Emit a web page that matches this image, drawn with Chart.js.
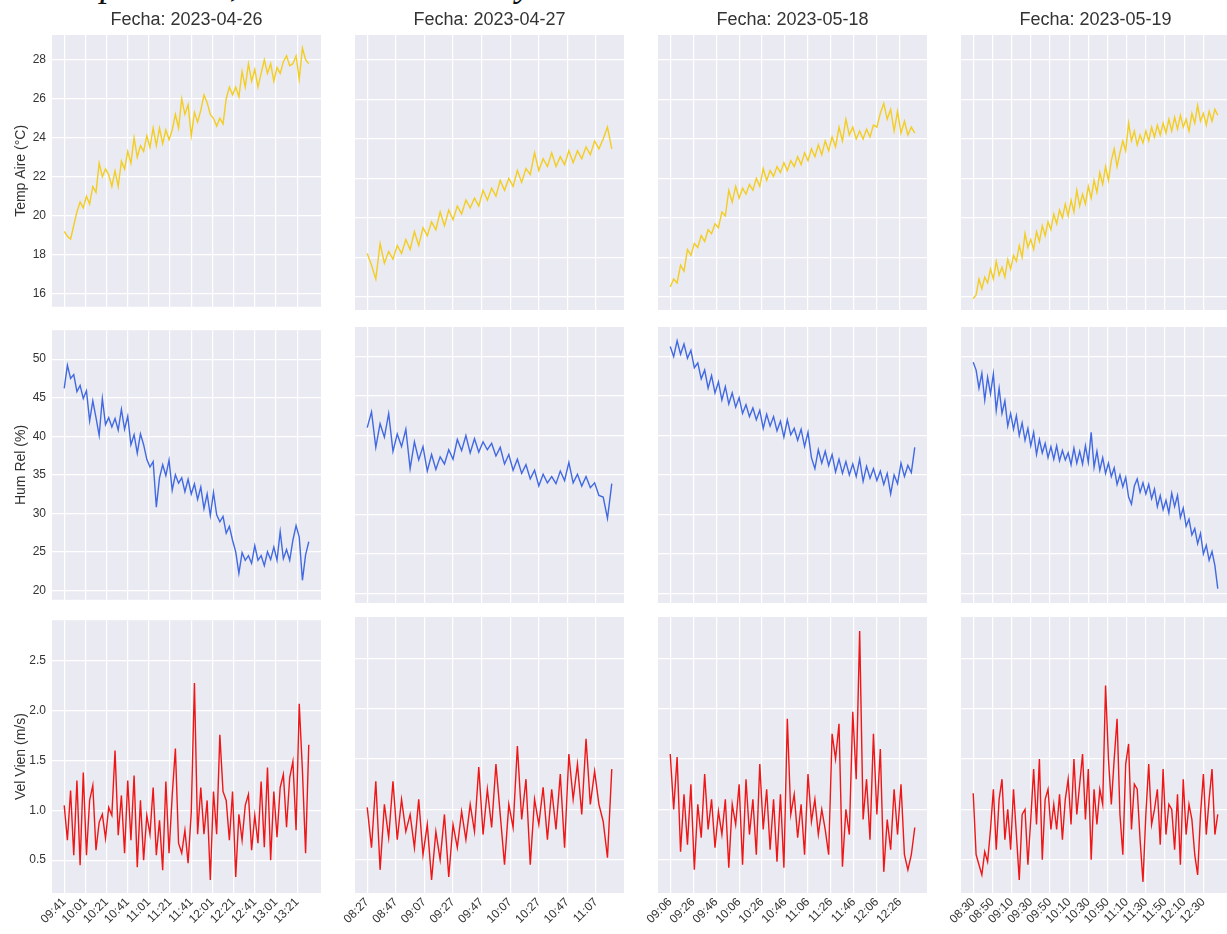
<!DOCTYPE html>
<html>
<head>
<meta charset="utf-8">
<script src="https://cdn.jsdelivr.net/npm/chart.js@4.4.0/dist/chart.umd.min.js"></script>
<style>
  html, body { margin: 0; padding: 0; background: #ffffff; width: 1227px; height: 934px; overflow: hidden; position: relative; }
  canvas.panel { position: absolute; }
  .caption { position: absolute; left: 40px; top: -35px; font: italic 37px "Liberation Serif", serif; line-height: 37px; white-space: nowrap; color: #111; }
</style>
</head>
<body>
<div class="caption">Temperatura, humedad relativa y velocidad del viento</div>
<script>
// ---- Data: one reading every 3 minutes from each day's start time ----
const dates = ['2023-04-26', '2023-04-27', '2023-05-18', '2023-05-19'];
const sampleStepMin = 3;

const ticks0426 = ['09:41','10:01','10:21','10:41','11:01','11:21','11:41','12:01','12:21','12:41','13:01','13:21'];
const ticks0427 = ['08:27','08:47','09:07','09:27','09:47','10:07','10:27','10:47','11:07'];
const ticks0518 = ['09:06','09:26','09:46','10:06','10:26','10:46','11:06','11:26','11:46','12:06','12:26'];
const ticks0519 = ['08:30','08:50','09:10','09:30','09:50','10:10','10:30','10:50','11:10','11:30','11:50','12:10','12:30'];
const tickStepMin = 20;

const tempTicks = [16, 18, 20, 22, 24, 26, 28];
const humTicks = [20, 25, 30, 35, 40, 45, 50];
const velTicks = [0.5, 1.0, 1.5, 2.0, 2.5];

const temp0426 = [19.2,18.95,18.8,19.5,20.2,20.7,20.4,21.0,20.6,21.5,
  21.2,22.7,22.0,22.4,22.1,21.5,22.3,21.5,22.8,22.4,
  23.3,22.7,24.0,23.0,23.6,23.3,24.1,23.5,24.5,23.6,
  24.5,23.7,24.4,23.9,24.4,25.2,24.5,26.0,25.2,25.7,
  24.1,25.3,24.8,25.4,26.2,25.8,25.2,25.0,24.6,25.0,
  24.7,26.0,26.6,26.2,26.6,26.1,27.4,26.6,27.8,26.9,
  27.5,26.6,27.3,28.0,27.3,27.8,26.9,27.6,27.3,27.9,
  28.2,27.7,27.8,28.2,27.0,28.6,28.0,27.8];
const hum0426 = [46.2,49.2,47.5,48.0,45.8,46.6,44.9,45.9,42.0,44.6,
  42.4,40.1,44.9,41.5,42.4,41.2,42.3,40.8,43.5,40.9,
  42.6,38.9,40.2,37.8,40.3,38.9,37.0,36.0,36.7,30.8,
  34.6,36.3,34.9,36.9,33.0,35.0,33.9,34.6,32.8,34.4,
  32.5,33.8,31.8,33.4,30.6,32.5,29.7,32.7,29.8,28.9,
  29.6,27.4,28.3,26.5,25.0,22.2,24.9,23.9,24.5,23.5,
  25.8,23.9,24.5,23.2,25.0,24.0,25.6,23.9,27.6,24.1,
  25.3,23.9,26.5,28.4,26.9,21.3,24.6,26.3];
const vel0426 = [1.05,0.70,1.20,0.55,1.30,0.45,1.38,0.55,1.10,1.25,
  0.60,0.88,0.96,0.72,1.03,0.95,1.60,0.75,1.15,0.57,
  1.30,0.70,1.35,0.43,1.10,0.50,0.95,0.76,1.23,0.55,
  0.90,0.40,1.29,0.57,1.15,1.62,0.67,0.57,0.80,0.47,
  0.98,2.28,0.76,1.23,0.76,1.10,0.30,1.19,0.76,1.76,
  1.19,1.10,0.70,1.19,0.33,0.96,0.70,1.05,1.16,0.60,
  0.95,0.67,1.29,0.63,1.43,0.50,1.19,0.73,1.23,1.36,
  0.83,1.33,1.49,0.80,2.07,1.40,0.57,1.66];

const temp0427 = [18.2,17.6,16.9,18.7,17.7,18.3,17.9,18.6,18.2,18.9,
  18.4,19.3,18.6,19.5,19.1,19.8,19.4,20.3,19.6,20.4,
  19.9,20.6,20.2,20.9,20.5,21.0,20.6,21.4,20.9,21.5,
  21.1,21.9,21.4,22.0,21.6,22.4,21.8,22.5,22.2,23.3,
  22.4,23.0,22.6,23.3,22.6,23.1,22.7,23.4,22.8,23.4,
  23.0,23.6,23.2,23.9,23.5,24.0,24.6,23.5];
const hum0427 = [41.0,43.0,38.5,41.5,39.8,42.8,38.0,40.2,38.6,40.8,
  35.8,39.2,36.9,38.6,35.5,37.6,35.7,37.3,36.4,38.2,
  37.0,39.5,38.1,40.0,37.8,39.6,37.9,39.2,38.2,39.0,
  37.4,38.5,36.4,37.6,35.6,37.0,35.2,36.3,34.5,35.6,
  33.6,35.1,34.0,34.8,33.9,35.5,34.3,36.6,34.0,35.1,
  33.6,34.8,33.4,34.0,32.4,32.2,29.5,33.9];
const vel0427 = [1.02,0.62,1.28,0.40,1.05,0.72,1.28,0.70,1.10,0.78,
  0.95,0.62,1.10,0.55,0.85,0.30,0.78,0.50,0.95,0.33,
  0.85,0.62,0.98,0.70,1.05,0.78,1.42,0.75,1.20,0.82,
  1.45,0.95,0.45,1.05,0.82,1.63,0.90,1.30,0.45,1.10,
  0.85,1.22,0.70,1.20,0.80,1.35,0.62,1.55,1.10,1.45,
  0.95,1.70,1.05,1.38,1.05,0.88,0.52,1.40];

const temp0518 = [16.5,16.9,16.7,17.6,17.3,18.4,18.1,18.7,18.5,19.1,
  18.8,19.4,19.2,19.7,19.5,20.3,20.1,21.4,20.8,21.6,
  21.0,21.5,21.2,21.7,21.4,22.0,21.6,22.5,21.9,22.4,
  22.1,22.6,22.3,22.8,22.4,22.9,22.6,23.1,22.7,23.3,
  22.9,23.5,23.1,23.7,23.2,23.9,23.4,24.1,23.6,24.6,
  23.9,25.0,24.2,24.6,24.0,24.4,24.0,24.5,24.1,24.7,
  24.6,25.3,25.8,25.0,25.5,24.4,25.4,24.3,24.9,24.2,
  24.6,24.3];
const hum0518 = [51.3,50.0,52.0,50.3,51.6,49.8,50.8,48.6,49.2,47.2,
  48.3,46.0,47.6,45.4,46.8,44.5,46.2,44.0,45.4,43.6,
  44.8,42.8,43.9,42.4,43.5,42.0,43.2,40.9,42.7,41.2,
  42.4,40.6,41.8,39.8,42.0,40.1,40.9,39.4,40.8,38.6,
  40.4,37.2,35.8,38.2,36.5,38.0,36.2,37.6,35.4,37.0,
  35.2,36.7,35.0,36.4,34.8,37.0,34.2,36.1,34.6,35.8,
  34.3,35.5,33.8,35.2,32.6,35.0,33.9,36.5,34.8,36.2,
  35.3,38.5];
const vel0518 = [1.55,1.00,1.52,0.58,1.15,0.65,1.25,0.40,1.05,0.72,
  1.35,0.80,1.10,0.62,0.98,0.75,1.10,0.42,1.05,0.85,
  1.25,0.45,1.30,0.75,1.10,0.55,1.45,0.80,1.20,0.60,
  1.10,0.48,1.15,0.42,1.90,0.95,1.15,0.72,1.05,0.55,
  1.35,0.88,1.10,0.75,1.00,0.80,0.55,1.75,1.50,1.85,
  0.43,1.00,0.75,1.97,1.30,2.77,0.90,1.30,0.70,1.75,
  0.95,1.60,0.38,0.90,0.60,1.20,0.75,1.25,0.55,0.40,
  0.55,0.82];

const temp0519 = [15.9,16.1,16.9,16.4,17.0,16.7,17.4,16.9,17.8,17.1,
  17.5,17.0,17.9,17.4,18.1,17.8,18.6,18.0,19.2,18.5,
  18.9,18.4,19.3,18.8,19.6,19.1,19.8,19.4,20.2,19.7,
  20.4,20.0,20.7,20.1,20.9,20.3,21.4,20.6,21.2,20.7,
  21.6,21.0,21.9,21.3,22.3,21.7,22.6,21.9,22.9,23.5,
  22.6,23.3,23.9,23.4,24.8,23.9,24.4,23.7,24.2,23.8,
  24.4,23.9,24.6,24.1,24.7,24.2,24.8,24.3,25.0,24.4,
  25.1,24.5,25.2,24.6,25.0,24.4,25.3,24.8,25.7,24.9,
  25.3,24.7,25.4,24.9,25.5,25.2];
const hum0519 = [49.3,48.3,46.0,47.9,44.5,47.4,45.3,47.8,43.2,46.0,
  42.8,44.4,41.2,42.8,40.8,42.5,40.0,41.6,39.4,40.9,
  38.7,40.4,37.6,39.5,37.8,39.0,37.2,38.6,37.0,38.7,
  36.8,38.1,36.9,37.8,36.3,38.4,36.5,38.0,36.4,38.7,
  36.6,40.4,36.0,38.0,35.6,37.2,35.2,36.5,34.8,35.9,
  33.8,35.0,33.5,34.7,32.2,31.3,33.6,34.5,32.8,34.0,
  32.6,33.8,32.0,33.2,31.0,32.4,30.6,31.8,30.2,32.7,
  31.0,32.4,29.6,30.8,28.5,29.4,27.4,28.2,26.3,27.6,
  25.0,26.1,24.2,25.3,23.5,20.6];
const vel0519 = [1.16,0.55,0.45,0.35,0.58,0.48,0.80,1.20,0.60,1.10,
  1.30,0.70,1.00,0.60,1.20,0.75,0.30,0.95,1.00,0.45,
  0.90,1.40,0.85,1.50,0.50,1.10,1.20,0.80,1.05,0.80,
  1.15,0.70,1.10,1.30,0.85,1.50,0.95,1.25,1.55,0.90,
  1.40,0.50,1.20,0.85,1.20,1.05,2.23,1.50,1.05,1.50,
  1.90,0.95,0.55,1.45,1.65,0.80,1.25,1.20,0.70,0.28,
  0.95,1.45,0.85,1.00,1.20,0.65,1.40,0.75,1.05,1.00,
  0.60,1.15,0.45,1.30,0.75,1.05,0.90,0.55,0.35,0.95,
  1.35,0.75,1.10,1.40,0.75,0.95];

// ---- Grid of panels: rows = variables, columns = days ----
const timeTicks = [ticks0426, ticks0427, ticks0518, ticks0519];
const rows = [
  { title: 'Temp Aire (°C)', color: '#F3CD22', series: [temp0426, temp0427, temp0518, temp0519], ticks: tempTicks, min: 15.33, max: 29.27, digits: 0 },
  { title: 'Hum Rel (%)',    color: '#4169E1', series: [hum0426, hum0427, hum0518, hum0519],     ticks: humTicks,  min: 18.77, max: 53.76, digits: 0 },
  { title: 'Vel Vien (m/s)', color: '#EE1616', series: [vel0426, vel0427, vel0518, vel0519],     ticks: velTicks,  min: 0.17,  max: 2.91,  digits: 1 }
];

const COL_LEFT = [52, 355, 658, 961];
const PANEL_W = 269;
const ROW_TOP = [35, 327, 617];
const ROW_H = [275, 276, 276];
const SIDE = 52;
const TEXT = '#333333';
const FONT = '"Liberation Sans", Arial, sans-serif';

const panelBg = {
  id: 'panelBg',
  beforeDraw(chart) {
    const { ctx, chartArea: a } = chart;
    ctx.save();
    ctx.fillStyle = '#EAEAF2';
    ctx.fillRect(a.left, a.top, a.width, a.height);
    ctx.restore();
  }
};

rows.forEach((row, r) => {
  dates.forEach((date, c) => {
    const values = row.series[c];
    const span = (values.length - 1) * sampleStepMin;
    const pad = span * 0.05;
    const labels = timeTicks[c];
    const tickValues = labels.map((_, k) => k * tickStepMin);

    const topSpace = r === 0 ? 35 : 10;
    const bottomSpace = r === 2 ? 41 : 10;
    const canvas = document.createElement('canvas');
    canvas.className = 'panel';
    canvas.width = PANEL_W + 2 * SIDE;
    canvas.height = topSpace + ROW_H[r] + bottomSpace;
    canvas.style.left = (COL_LEFT[c] - SIDE) + 'px';
    canvas.style.top = (ROW_TOP[r] - topSpace) + 'px';
    document.body.appendChild(canvas);

    new Chart(canvas, {
      type: 'line',
      data: {
        datasets: [{
          data: values.map((v, i) => ({ x: i * sampleStepMin, y: v })),
          borderColor: row.color,
          borderWidth: 1.4,
          pointRadius: 0,
          tension: 0,
          fill: false
        }]
      },
      options: {
        responsive: false,
        animation: false,
        devicePixelRatio: 1,
        layout: { padding: { left: 0, right: SIDE, top: r === 0 ? 0 : topSpace, bottom: r === 2 ? 0 : bottomSpace } },
        plugins: {
          legend: { display: false },
          tooltip: { enabled: false },
          title: {
            display: r === 0,
            fullSize: false,
            text: 'Fecha: ' + date,
            color: TEXT,
            font: { family: FONT, size: 18, weight: 'normal' },
            padding: { top: 9, bottom: 4.4 }
          }
        },
        scales: {
          x: {
            type: 'linear',
            min: -pad,
            max: span + pad,
            afterBuildTicks: (s) => { s.ticks = tickValues.map(v => ({ value: v })); },
            afterFit: (s) => { s.height = r === 2 ? bottomSpace : 0; },
            grid: { color: '#ffffff', lineWidth: 1.2, drawTicks: false },
            border: { display: false },
            ticks: {
              display: r === 2,
              autoSkip: false,
              minRotation: 45,
              maxRotation: 45,
              padding: 2,
              color: TEXT,
              font: { family: FONT, size: 12 },
              callback: (v, i) => labels[i]
            }
          },
          y: {
            min: row.min,
            max: row.max,
            afterBuildTicks: (s) => { s.ticks = row.ticks.map(v => ({ value: v })); },
            afterFit: (s) => { s.width = SIDE; },
            grid: { color: '#ffffff', lineWidth: 1.2, drawTicks: false },
            border: { display: false },
            title: {
              display: c === 0,
              text: row.title,
              color: TEXT,
              font: { family: FONT, size: 14 },
              padding: { top: 13, bottom: 0 }
            },
            ticks: {
              display: c === 0,
              padding: 6,
              color: TEXT,
              font: { family: FONT, size: 12 },
              callback: (v) => Number(v).toFixed(row.digits)
            }
          }
        }
      },
      plugins: [panelBg]
    });
  });
});
</script>
</body>
</html>
